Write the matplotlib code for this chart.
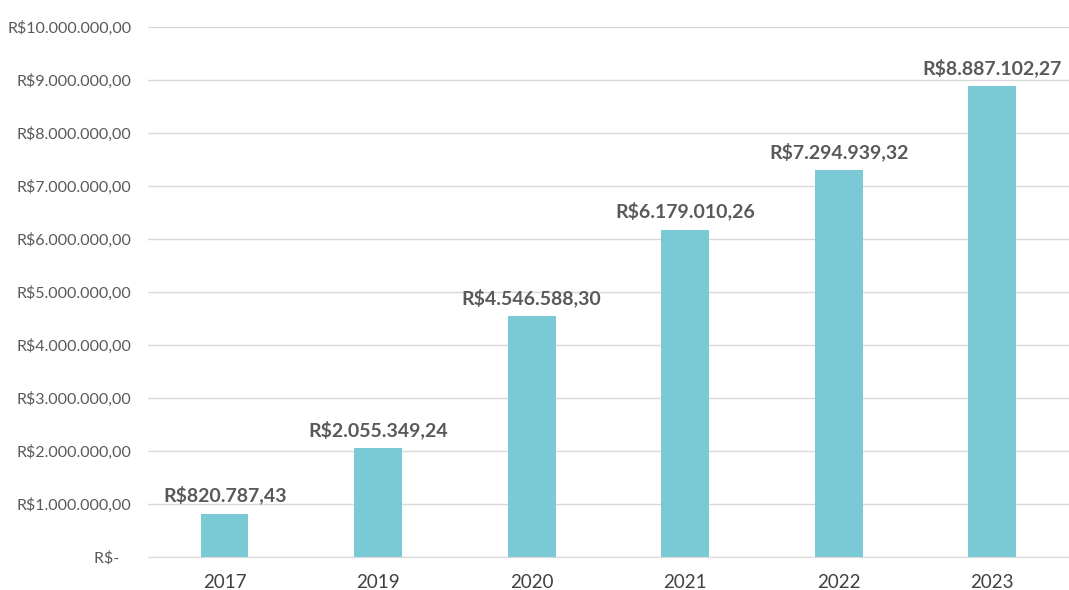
"""Faturamento anual - grafico de barras"""
import matplotlib
matplotlib.use("Agg")
import matplotlib.pyplot as plt
from matplotlib.ticker import FuncFormatter

# Dados
anos = ["2017", "2019", "2020", "2021", "2022", "2023"]
valores = [820787.43, 2055349.24, 4546588.30, 6179010.26, 7294939.32, 8887102.27]
rotulos = ["R$820.787,43", "R$2.055.349,24", "R$4.546.588,30",
           "R$6.179.010,26", "R$7.294.939,32", "R$8.887.102,27"]

COR_BARRA = "#7ACAD6"
COR_TEXTO = "#595959"

plt.rcParams['font.family'] = ['Lato', 'DejaVu Sans']


def moeda(v, pos):
    """Formata no padrao brasileiro"""
    if v == 0:
        return "R$-   "
    s = f"{v:,.2f}".replace(",", "X").replace(".", ",").replace("X", ".")
    return "R$" + s


fig = plt.figure(figsize=(10.69, 5.90), dpi=100)
ax = fig.add_axes([0.1384, 0.0559, 0.8616, 0.8983])

x = range(len(anos))
ax.bar(x, valores, width=0.31, color=COR_BARRA, zorder=2)

for i, v in enumerate(valores):
    ax.text(i, v + 170000, rotulos[i], ha="center", va="bottom",
            fontsize=14, fontweight="bold", color=COR_TEXTO)

ax.set_xlim(-0.5, len(anos) - 0.5)
ax.set_ylim(0, 10000000)
ax.set_yticks([i * 1000000 for i in range(11)])
ax.yaxis.set_major_formatter(FuncFormatter(moeda))
ax.set_xticks(list(x))
ax.set_xticklabels(anos)

ax.grid(axis="y", color="#D9D9D9", linewidth=1, zorder=0)
for lado in ["top", "right", "left"]:
    ax.spines[lado].set_visible(False)
ax.spines["bottom"].set_color("#D9D9D9")
ax.tick_params(axis="both", length=0)
ax.tick_params(axis="y", labelsize=11.5, labelcolor=COR_TEXTO, pad=12)
ax.tick_params(axis="x", labelsize=13.5, labelcolor="#404040", pad=12)

fig.savefig("out.png", dpi=100)
